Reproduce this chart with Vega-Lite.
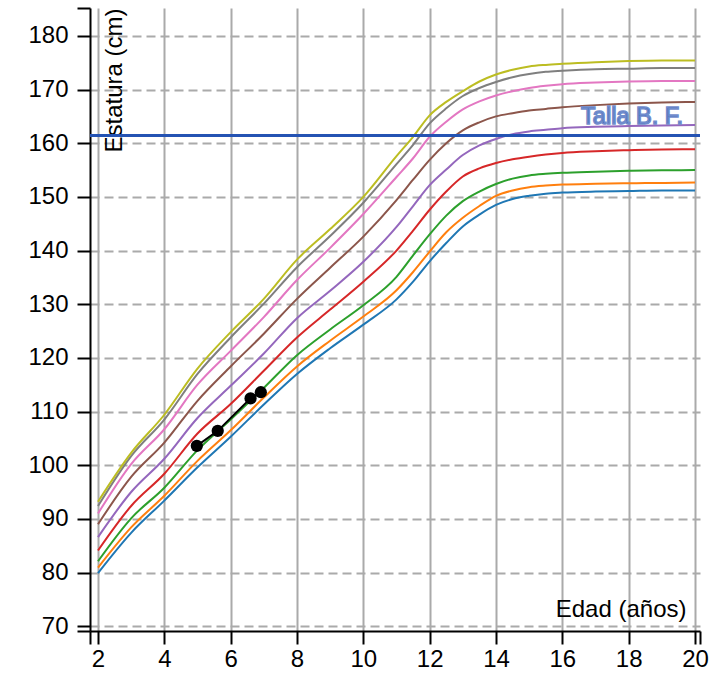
{
  "$schema": "https://vega.github.io/schema/vega-lite/v6.json",
  "width": 610,
  "height": 623,
  "autosize": {"type": "none"},
  "padding": {"left": 90, "top": 8, "right": 11, "bottom": 45},
  "background": "white",
  "config": {"view": {"stroke": null}, "font": "Liberation Sans"},
  "datasets": {
    "curvas": [
      {"edad":2,"percentil":"P3","estatura":79.9},{"edad":3,"percentil":"P3","estatura":87.4},{"edad":4,"percentil":"P3","estatura":93.4},{"edad":5,"percentil":"P3","estatura":99.6},{"edad":6,"percentil":"P3","estatura":105.3},{"edad":7,"percentil":"P3","estatura":111.3},{"edad":8,"percentil":"P3","estatura":117.0},{"edad":9,"percentil":"P3","estatura":121.8},{"edad":10,"percentil":"P3","estatura":126.2},{"edad":11,"percentil":"P3","estatura":130.9},{"edad":11.5,"percentil":"P3","estatura":134.2},{"edad":12,"percentil":"P3","estatura":138.0},{"edad":12.5,"percentil":"P3","estatura":141.4},{"edad":13,"percentil":"P3","estatura":144.5},{"edad":13.5,"percentil":"P3","estatura":146.7},{"edad":14,"percentil":"P3","estatura":148.5},{"edad":14.5,"percentil":"P3","estatura":149.6},{"edad":15,"percentil":"P3","estatura":150.2},{"edad":15.5,"percentil":"P3","estatura":150.6},{"edad":16,"percentil":"P3","estatura":150.8},{"edad":17,"percentil":"P3","estatura":151.0},{"edad":18,"percentil":"P3","estatura":151.1},{"edad":19,"percentil":"P3","estatura":151.2},{"edad":20,"percentil":"P3","estatura":151.2},
      {"edad":2,"percentil":"P5","estatura":80.9},{"edad":3,"percentil":"P5","estatura":88.4},{"edad":4,"percentil":"P5","estatura":94.3},{"edad":5,"percentil":"P5","estatura":100.8},{"edad":6,"percentil":"P5","estatura":106.5},{"edad":7,"percentil":"P5","estatura":112.6},{"edad":8,"percentil":"P5","estatura":118.4},{"edad":9,"percentil":"P5","estatura":123.2},{"edad":10,"percentil":"P5","estatura":127.7},{"edad":11,"percentil":"P5","estatura":132.6},{"edad":11.5,"percentil":"P5","estatura":136.0},{"edad":12,"percentil":"P5","estatura":139.8},{"edad":12.5,"percentil":"P5","estatura":143.4},{"edad":13,"percentil":"P5","estatura":146.1},{"edad":13.5,"percentil":"P5","estatura":148.3},{"edad":14,"percentil":"P5","estatura":150.2},{"edad":14.5,"percentil":"P5","estatura":151.2},{"edad":15,"percentil":"P5","estatura":151.8},{"edad":15.5,"percentil":"P5","estatura":152.1},{"edad":16,"percentil":"P5","estatura":152.3},{"edad":17,"percentil":"P5","estatura":152.45},{"edad":18,"percentil":"P5","estatura":152.55},{"edad":19,"percentil":"P5","estatura":152.6},{"edad":20,"percentil":"P5","estatura":152.7},
      {"edad":2,"percentil":"P10","estatura":82.1},{"edad":3,"percentil":"P10","estatura":90.1},{"edad":4,"percentil":"P10","estatura":95.8},{"edad":5,"percentil":"P10","estatura":102.8},{"edad":6,"percentil":"P10","estatura":108.5},{"edad":7,"percentil":"P10","estatura":114.4},{"edad":8,"percentil":"P10","estatura":120.5},{"edad":9,"percentil":"P10","estatura":125.3},{"edad":10,"percentil":"P10","estatura":129.8},{"edad":11,"percentil":"P10","estatura":135.1},{"edad":11.5,"percentil":"P10","estatura":139.1},{"edad":12,"percentil":"P10","estatura":143.0},{"edad":12.5,"percentil":"P10","estatura":146.5},{"edad":13,"percentil":"P10","estatura":149.2},{"edad":13.5,"percentil":"P10","estatura":151.0},{"edad":14,"percentil":"P10","estatura":152.4},{"edad":14.5,"percentil":"P10","estatura":153.4},{"edad":15,"percentil":"P10","estatura":154.0},{"edad":15.5,"percentil":"P10","estatura":154.3},{"edad":16,"percentil":"P10","estatura":154.5},{"edad":17,"percentil":"P10","estatura":154.7},{"edad":18,"percentil":"P10","estatura":154.85},{"edad":19,"percentil":"P10","estatura":154.95},{"edad":20,"percentil":"P10","estatura":155.0},
      {"edad":2,"percentil":"P25","estatura":84.1},{"edad":3,"percentil":"P25","estatura":92.4},{"edad":4,"percentil":"P25","estatura":98.4},{"edad":5,"percentil":"P25","estatura":105.9},{"edad":6,"percentil":"P25","estatura":111.4},{"edad":7,"percentil":"P25","estatura":117.6},{"edad":8,"percentil":"P25","estatura":123.8},{"edad":9,"percentil":"P25","estatura":129.0},{"edad":10,"percentil":"P25","estatura":134.2},{"edad":11,"percentil":"P25","estatura":140.0},{"edad":11.5,"percentil":"P25","estatura":143.7},{"edad":12,"percentil":"P25","estatura":147.6},{"edad":12.5,"percentil":"P25","estatura":151.0},{"edad":13,"percentil":"P25","estatura":153.8},{"edad":13.5,"percentil":"P25","estatura":155.3},{"edad":14,"percentil":"P25","estatura":156.3},{"edad":14.5,"percentil":"P25","estatura":157.0},{"edad":15,"percentil":"P25","estatura":157.5},{"edad":15.5,"percentil":"P25","estatura":157.9},{"edad":16,"percentil":"P25","estatura":158.2},{"edad":17,"percentil":"P25","estatura":158.5},{"edad":18,"percentil":"P25","estatura":158.7},{"edad":19,"percentil":"P25","estatura":158.85},{"edad":20,"percentil":"P25","estatura":158.9},
      {"edad":2,"percentil":"P50","estatura":86.6},{"edad":3,"percentil":"P50","estatura":95.0},{"edad":4,"percentil":"P50","estatura":101.2},{"edad":5,"percentil":"P50","estatura":108.8},{"edad":6,"percentil":"P50","estatura":114.8},{"edad":7,"percentil":"P50","estatura":120.8},{"edad":8,"percentil":"P50","estatura":127.4},{"edad":9,"percentil":"P50","estatura":132.5},{"edad":10,"percentil":"P50","estatura":137.9},{"edad":11,"percentil":"P50","estatura":144.4},{"edad":11.5,"percentil":"P50","estatura":148.3},{"edad":12,"percentil":"P50","estatura":152.2},{"edad":12.5,"percentil":"P50","estatura":155.1},{"edad":13,"percentil":"P50","estatura":157.8},{"edad":13.5,"percentil":"P50","estatura":159.6},{"edad":14,"percentil":"P50","estatura":160.8},{"edad":14.5,"percentil":"P50","estatura":161.7},{"edad":15,"percentil":"P50","estatura":162.2},{"edad":15.5,"percentil":"P50","estatura":162.5},{"edad":16,"percentil":"P50","estatura":162.8},{"edad":17,"percentil":"P50","estatura":163.05},{"edad":18,"percentil":"P50","estatura":163.2},{"edad":19,"percentil":"P50","estatura":163.3},{"edad":20,"percentil":"P50","estatura":163.4},
      {"edad":2,"percentil":"P75","estatura":89.0},{"edad":3,"percentil":"P75","estatura":97.8},{"edad":4,"percentil":"P75","estatura":104.2},{"edad":5,"percentil":"P75","estatura":112.0},{"edad":6,"percentil":"P75","estatura":118.4},{"edad":7,"percentil":"P75","estatura":124.5},{"edad":8,"percentil":"P75","estatura":131.0},{"edad":9,"percentil":"P75","estatura":136.8},{"edad":10,"percentil":"P75","estatura":142.6},{"edad":11,"percentil":"P75","estatura":149.4},{"edad":11.5,"percentil":"P75","estatura":153.2},{"edad":12,"percentil":"P75","estatura":156.9},{"edad":12.5,"percentil":"P75","estatura":160.0},{"edad":13,"percentil":"P75","estatura":162.4},{"edad":13.5,"percentil":"P75","estatura":163.9},{"edad":14,"percentil":"P75","estatura":165.0},{"edad":14.5,"percentil":"P75","estatura":165.6},{"edad":15,"percentil":"P75","estatura":166.1},{"edad":15.5,"percentil":"P75","estatura":166.4},{"edad":16,"percentil":"P75","estatura":166.7},{"edad":17,"percentil":"P75","estatura":167.1},{"edad":18,"percentil":"P75","estatura":167.4},{"edad":19,"percentil":"P75","estatura":167.6},{"edad":20,"percentil":"P75","estatura":167.7},
      {"edad":2,"percentil":"P90","estatura":91.0},{"edad":3,"percentil":"P90","estatura":100.2},{"edad":4,"percentil":"P90","estatura":106.7},{"edad":5,"percentil":"P90","estatura":115.0},{"edad":6,"percentil":"P90","estatura":121.3},{"edad":7,"percentil":"P90","estatura":127.6},{"edad":8,"percentil":"P90","estatura":134.5},{"edad":9,"percentil":"P90","estatura":140.5},{"edad":10,"percentil":"P90","estatura":146.8},{"edad":11,"percentil":"P90","estatura":153.7},{"edad":11.5,"percentil":"P90","estatura":157.2},{"edad":12,"percentil":"P90","estatura":161.2},{"edad":12.5,"percentil":"P90","estatura":164.0},{"edad":13,"percentil":"P90","estatura":166.3},{"edad":13.5,"percentil":"P90","estatura":167.8},{"edad":14,"percentil":"P90","estatura":168.9},{"edad":14.5,"percentil":"P90","estatura":169.7},{"edad":15,"percentil":"P90","estatura":170.3},{"edad":15.5,"percentil":"P90","estatura":170.7},{"edad":16,"percentil":"P90","estatura":171.0},{"edad":17,"percentil":"P90","estatura":171.3},{"edad":18,"percentil":"P90","estatura":171.5},{"edad":19,"percentil":"P90","estatura":171.6},{"edad":20,"percentil":"P90","estatura":171.6},
      {"edad":2,"percentil":"P95","estatura":92.4},{"edad":3,"percentil":"P95","estatura":101.7},{"edad":4,"percentil":"P95","estatura":108.5},{"edad":5,"percentil":"P95","estatura":117.0},{"edad":6,"percentil":"P95","estatura":123.8},{"edad":7,"percentil":"P95","estatura":130.1},{"edad":8,"percentil":"P95","estatura":136.9},{"edad":9,"percentil":"P95","estatura":142.7},{"edad":10,"percentil":"P95","estatura":148.9},{"edad":11,"percentil":"P95","estatura":156.1},{"edad":11.5,"percentil":"P95","estatura":159.7},{"edad":12,"percentil":"P95","estatura":163.7},{"edad":12.5,"percentil":"P95","estatura":166.5},{"edad":13,"percentil":"P95","estatura":168.8},{"edad":13.5,"percentil":"P95","estatura":170.3},{"edad":14,"percentil":"P95","estatura":171.4},{"edad":14.5,"percentil":"P95","estatura":172.3},{"edad":15,"percentil":"P95","estatura":172.9},{"edad":15.5,"percentil":"P95","estatura":173.3},{"edad":16,"percentil":"P95","estatura":173.5},{"edad":17,"percentil":"P95","estatura":173.8},{"edad":18,"percentil":"P95","estatura":173.9},{"edad":19,"percentil":"P95","estatura":174.0},{"edad":20,"percentil":"P95","estatura":174.0},
      {"edad":2,"percentil":"P97","estatura":93.2},{"edad":3,"percentil":"P97","estatura":102.3},{"edad":4,"percentil":"P97","estatura":109.4},{"edad":5,"percentil":"P97","estatura":118.0},{"edad":6,"percentil":"P97","estatura":124.8},{"edad":7,"percentil":"P97","estatura":131.0},{"edad":8,"percentil":"P97","estatura":138.3},{"edad":9,"percentil":"P97","estatura":144.0},{"edad":10,"percentil":"P97","estatura":150.0},{"edad":11,"percentil":"P97","estatura":157.6},{"edad":11.5,"percentil":"P97","estatura":161.2},{"edad":12,"percentil":"P97","estatura":165.2},{"edad":12.5,"percentil":"P97","estatura":167.7},{"edad":13,"percentil":"P97","estatura":169.7},{"edad":13.5,"percentil":"P97","estatura":171.5},{"edad":14,"percentil":"P97","estatura":172.8},{"edad":14.5,"percentil":"P97","estatura":173.7},{"edad":15,"percentil":"P97","estatura":174.3},{"edad":15.5,"percentil":"P97","estatura":174.6},{"edad":16,"percentil":"P97","estatura":174.8},{"edad":17,"percentil":"P97","estatura":175.1},{"edad":18,"percentil":"P97","estatura":175.3},{"edad":19,"percentil":"P97","estatura":175.4},{"edad":20,"percentil":"P97","estatura":175.4}
    ],
    "talla": [{"estatura": 161.45, "etiqueta": "Talla B. F.", "edad": 20}],
    "medidas": [
      {"edad": 4.98, "estatura": 103.6},
      {"edad": 5.61, "estatura": 106.4},
      {"edad": 6.60, "estatura": 112.45},
      {"edad": 6.91, "estatura": 113.6}
    ]
  },
  "layer": [
    {
      "data": {"name": "curvas"},
      "mark": {"type": "line", "strokeWidth": 2, "interpolate": "monotone"},
      "encoding": {
        "x": {
          "field": "edad", "type": "quantitative",
          "scale": {"domain": [1.759, 20.151], "nice": false, "zero": false},
          "axis": {
            "values": [1.759, 2, 4, 6, 8, 10, 12, 14, 16, 18, 20, 20.151],
            "format": "d",
            "labelExpr": "(datum.value < 1.9 || datum.value > 20.1) ? '' : datum.label",
            "grid": true,
            "gridColor": "#aaaaaa",
            "gridWidth": 2,
            "gridOpacity": {"condition": {"test": "datum.value < 1.9 || datum.value > 20.1", "value": 0}, "value": 1},
            "domainColor": "black", "domainWidth": 2,
            "tickColor": "black", "tickWidth": 2, "tickSize": 13,
            "labelFont": "Liberation Sans", "labelFontSize": 24, "labelColor": "black",
            "labelPadding": 3, "labelOverlap": false, "labelFlush": false, "labelBound": false,
            "title": "Edad (años)",
            "titleFont": "Liberation Sans", "titleFontSize": 24, "titleFontWeight": "normal", "titleColor": "black",
            "titleX": 596, "titleY": -15, "titleAlign": "right", "titleBaseline": "alphabetic", "titleAngle": 0
          }
        },
        "y": {
          "field": "estatura", "type": "quantitative",
          "scale": {"domain": [69.1, 185.2], "nice": false, "zero": false},
          "axis": {
            "values": [69.1, 70, 80, 90, 100, 110, 120, 130, 140, 150, 160, 170, 180, 185.2],
            "format": "d",
            "labelExpr": "(datum.value < 69.5 || datum.value > 185) ? '' : datum.label",
            "grid": true,
            "gridColor": "#aaaaaa",
            "gridWidth": 2,
            "gridDash": [9, 5],
            "gridOpacity": {"condition": {"test": "datum.value < 69.5 || datum.value > 185", "value": 0}, "value": 1},
            "domainColor": "black", "domainWidth": 2,
            "tickColor": "black", "tickWidth": 2, "tickSize": 13,
            "labelFont": "Liberation Sans", "labelFontSize": 24, "labelColor": "black",
            "labelPadding": 9, "labelOverlap": false, "labelFlush": false, "labelBound": false,
            "title": "Estatura (cm)",
            "titleFont": "Liberation Sans", "titleFontSize": 24, "titleFontWeight": "normal", "titleColor": "black",
            "titleAngle": -90, "titleX": 24, "titleY": 0, "titleAlign": "right", "titleBaseline": "middle"
          }
        },
        "color": {
          "field": "percentil", "type": "nominal",
          "scale": {
            "domain": ["P3", "P5", "P10", "P25", "P50", "P75", "P90", "P95", "P97"],
            "range": ["#1f77b4", "#ff7f0e", "#2ca02c", "#d62728", "#9467bd", "#8c564b", "#e377c2", "#7f7f7f", "#bcbd22"]
          },
          "legend": null
        }
      }
    },
    {
      "data": {"name": "talla"},
      "mark": {"type": "rule", "color": "#2453b3", "strokeWidth": 3},
      "encoding": {
        "y": {"field": "estatura", "type": "quantitative"}
      }
    },
    {
      "data": {"name": "talla"},
      "mark": {
        "type": "text", "align": "right", "baseline": "alphabetic",
        "dx": -12, "dy": -11,
        "font": "Liberation Sans", "fontSize": 23.5, "fontWeight": "normal",
        "color": "#3b5ead", "stroke": "#6f8ccc", "strokeWidth": 1.6
      },
      "encoding": {
        "x": {"field": "edad", "type": "quantitative"},
        "y": {"field": "estatura", "type": "quantitative"},
        "text": {"field": "etiqueta"}
      }
    },
    {
      "data": {"name": "medidas"},
      "mark": {"type": "line", "color": "black", "strokeWidth": 2, "point": {"filled": true, "size": 150, "color": "black", "opacity": 1}},
      "encoding": {
        "x": {"field": "edad", "type": "quantitative"},
        "y": {"field": "estatura", "type": "quantitative"}
      }
    }
  ]
}
